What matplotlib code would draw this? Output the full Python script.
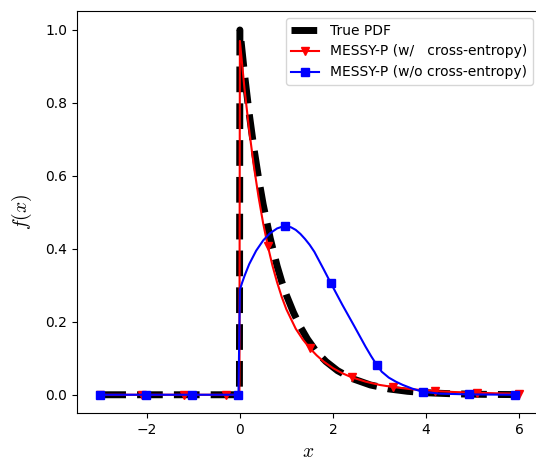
import matplotlib
matplotlib.use('Agg')
import matplotlib.pyplot as plt

plt.rcParams['mathtext.fontset'] = 'cm'

# values
x_true = [-3.0, -0.01, 0.0, 0.1, 0.2, 0.3, 0.4, 0.5, 0.65, 0.8, 0.9, 1.0, 1.15, 1.3, 1.45, 1.65, 1.85,
          2.1, 2.4, 2.8, 3.2, 3.6, 4.0, 4.5, 5.0, 5.5, 6.0]
f_true = [0.0, 0.0, 1.0, 0.878, 0.771, 0.677, 0.595, 0.522, 0.43, 0.353, 0.31, 0.273, 0.226, 0.186, 0.153,
          0.117, 0.091, 0.066, 0.045, 0.027, 0.016, 0.0095, 0.0055, 0.003, 0.0015, 0.0008, 0.0004]

x_ce = [-3.0, -2.1, -1.2, -0.3, -0.01, 0.0, 0.1, 0.2, 0.3, 0.4, 0.5, 0.6, 0.7, 0.8, 0.9, 1.0, 1.2, 1.35,
        1.5, 1.65, 1.8, 2.0, 2.2, 2.4, 2.7, 3.0, 3.3, 3.7, 4.2, 4.6, 5.1, 5.5, 6.0]
f_ce = [0.0, 0.0, 0.0, 0.0, 0.0, 0.97, 0.838, 0.725, 0.627, 0.543, 0.47, 0.408, 0.354, 0.308, 0.268, 0.234, 0.181, 0.152,
        0.128, 0.108, 0.091, 0.073, 0.059, 0.048, 0.036, 0.027, 0.021, 0.015, 0.01, 0.0075, 0.0055, 0.004, 0.003]
marks_ce = [-3.0, -2.1, -1.2, -0.3, 0.6, 1.5, 2.4, 3.3, 4.2, 5.1, 6.0]

x_noce = [-3.0, -2.01, -1.02, -0.03, 0.0, 0.05, 0.1, 0.2, 0.35, 0.5, 0.65, 0.8, 0.96, 1.1, 1.2, 1.3, 1.4,
          1.5, 1.6, 1.7, 1.8, 1.95, 2.2, 2.45, 2.7, 2.82, 2.94, 3.05, 3.2, 3.35, 3.5, 3.7, 3.93, 4.3, 4.92, 5.91]
f_noce = [0.0, 0.0, 0.0, 0.0, 0.288, 0.308, 0.326, 0.358, 0.395, 0.423, 0.443, 0.456, 0.463, 0.459, 0.452, 0.441, 0.427,
          0.411, 0.392, 0.368, 0.344, 0.307, 0.247, 0.19, 0.132, 0.106, 0.082, 0.063, 0.047, 0.036, 0.027, 0.017, 0.008,
          0.003, 0.001, 0.0]
marks_noce = [-3.0, -2.01, -1.02, -0.03, 0.96, 1.95, 2.94, 3.93, 4.92, 5.91]

fig = plt.figure(figsize=(5.36, 4.63), dpi=100)
ax = fig.add_axes([0.1437, 0.108, 0.8638, 0.8682])

ax.plot(x_true, f_true, 'k--', lw=5, label='True PDF')
ax.plot(x_ce, f_ce, 'r-', lw=1.5, marker='v', ms=6,
        markevery=[x_ce.index(m) for m in marks_ce], label='MESSY-P (w/   cross-entropy)')
ax.plot(x_noce, f_noce, 'b-', lw=1.5, marker='s', ms=6,
        markevery=[x_noce.index(m) for m in marks_noce], label='MESSY-P (w/o cross-entropy)')

ax.set_xlim(-3.5, 6.45)
ax.set_ylim(-0.05, 1.052)
ax.set_xticks([-2, 0, 2, 4, 6])
ax.set_xticklabels(['\u22122', '0', '2', '4', '6'])
ax.set_xlabel('$x$', fontsize=14, labelpad=4)
ax.set_ylabel('$f(x)$', fontsize=14, labelpad=8)
ax.spines['right'].set_visible(False)
ax.legend(loc='upper right')

plt.savefig('out.png', dpi=100)
